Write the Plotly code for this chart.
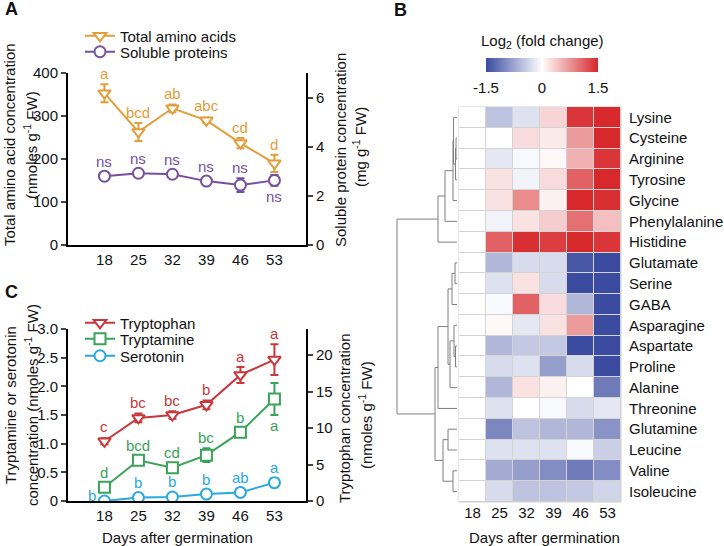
import plotly.graph_objects as go

# ---------------- data ----------------
days = [18, 25, 32, 39, 46, 53]
day_labels = ['18', '25', '32', '39', '46', '53']

taa_mean = [353, 263, 318, 290, 237, 190]
taa_err = [21, 21, 9, 6, 12, 20]
taa_letters = ['a', 'bcd', 'ab', 'abc', 'cd', 'd']

sp_mean = [2.80, 2.92, 2.88, 2.60, 2.44, 2.63]
sp_err = [0.04, 0.04, 0.04, 0.05, 0.28, 0.22]
sp_letters = ['ns', 'ns', 'ns', 'ns', 'ns', 'ns']

trp_mean = [8.2, 11.4, 11.8, 13.2, 17.3, 19.4]
trp_err = [0.4, 0.6, 0.5, 0.6, 1.1, 2.1]
trp_letters = ['c', 'bc', 'bc', 'b', 'a', 'a']

tra_mean = [0.24, 0.71, 0.58, 0.80, 1.20, 1.78]
tra_err = [0.03, 0.04, 0.07, 0.12, 0.04, 0.28]
tra_letters = ['d', 'bcd', 'cd', 'bc', 'b', 'a']

ser_mean = [0.0, 0.06, 0.07, 0.12, 0.15, 0.32]
ser_err = [0.0, 0.02, 0.02, 0.02, 0.02, 0.08]
ser_letters = ['b', 'b', 'b', 'b', 'ab', 'a']

amino_acids = ['Lysine', 'Cysteine', 'Arginine', 'Tyrosine', 'Glycine',
               'Phenylalanine', 'Histidine', 'Glutamate', 'Serine', 'GABA',
               'Asparagine', 'Aspartate', 'Proline', 'Alanine', 'Threonine',
               'Glutamine', 'Leucine', 'Valine', 'Isoleucine']

log2fc = [
    [0, -0.50, -0.25, 0.30, 1.40, 1.50],
    [0, 0.00, 0.25, 0.15, 0.70, 1.50],
    [0, -0.20, -0.05, 0.05, 0.55, 1.40],
    [0, 0.20, -0.10, 0.25, 1.10, 1.50],
    [0, 0.20, 0.80, 0.10, 1.50, 1.45],
    [0, -0.10, 0.20, 0.35, 1.00, 0.45],
    [0, 1.10, 1.45, 1.35, 1.50, 1.40],
    [0, -0.60, -0.30, -0.30, -1.40, -1.50],
    [0, -0.25, 0.20, -0.30, -1.50, -1.50],
    [0, -0.05, 1.10, 0.25, -0.60, -1.50],
    [0, 0.05, -0.20, 0.20, 0.70, -1.50],
    [0, -0.60, -0.45, -0.45, -1.50, -1.50],
    [0, -0.30, -0.25, -0.80, -0.30, -1.50],
    [0, -0.60, 0.20, 0.10, 0.00, -1.10],
    [0, -0.25, 0.00, -0.05, -0.30, -0.20],
    [0, -1.00, -0.50, -0.60, -0.60, -0.90],
    [0, -0.25, -0.25, -0.25, -0.05, -0.40],
    [0, -0.70, -0.80, -0.95, -1.10, -0.95],
    [0, -0.30, -0.50, -0.50, -0.45, -0.35],
]

# hierarchical clustering merges: (child a, child b, height); leaves are 0..18,
# new clusters numbered from 19 in order
linkage = [
    (1, 2, 1.0), (19, 3, 1.5), (0, 20, 3.5), (21, 4, 4.0), (22, 5, 12.0),
    (23, 6, 19.0),
    (7, 8, 2.0), (25, 9, 5.0), (11, 12, 1.5), (10, 27, 3.0), (28, 13, 7.0),
    (26, 29, 9.0), (30, 14, 19.0), (15, 16, 9.0), (17, 18, 4.0),
    (32, 33, 14.0), (31, 34, 22.0),
    (24, 35, 60.0),
]

# ---------------- style ----------------
FONT = 'Liberation Sans, Arial, sans-serif'
FS = 15
W, H = 724, 546
ORANGE = '#E39D3A'
PURPLE = '#76509E'
RED = '#C8373A'
GREEN = '#3AA35A'
CYAN = '#29A9E1'


def px_x(p):
    return p / W


def px_y(p):
    return 1 - p / H


A_dom_y = [px_y(245), px_y(73)]
C_dom_y = [px_y(501), px_y(329)]
LX_dom = [px_x(68), px_x(306)]
HM_dom_x = [px_x(459), px_x(621)]
HM_dom_y = [px_y(502), px_y(107)]
DG_dom_x = [px_x(395), px_x(459)]

A_left_range = [0, 400]
A_right_range = [0, 7]
C_left_range = [0, 3]
C_right_range = [0, 23.6]

fig = go.Figure()


def series(x, y, err, color, symbol, name, xa, ya, legend):
    fig.add_trace(go.Scatter(
        x=x, y=y, name=name, mode='lines+markers', xaxis=xa, yaxis=ya,
        legend=legend,
        line=dict(color=color, width=2),
        marker=dict(symbol=symbol, size=11, color='white',
                    line=dict(color=color, width=2)),
        error_y=dict(type='data', array=err, visible=True, color=color,
                     thickness=2, width=4),
    ))


series(days, taa_mean, taa_err, ORANGE, 'triangle-down', 'Total amino acids', 'x', 'y', 'legend')
series(days, sp_mean, sp_err, PURPLE, 'circle', 'Soluble proteins', 'x', 'y2', 'legend2')
series(days, trp_mean, trp_err, RED, 'triangle-down', 'Tryptophan', 'x2', 'y4', 'legend3')
series(days, tra_mean, tra_err, GREEN, 'square', 'Tryptamine', 'x2', 'y3', 'legend4')
series(days, ser_mean, ser_err, CYAN, 'circle', 'Serotonin', 'x2', 'y3', 'legend5')

annotations = []


def letters(x, y, err, texts, color, xref, yref, dom, rng, positions):
    ppu = (dom[1] - dom[0]) * H / (rng[1] - rng[0])
    for xi, yi, ei, t, pos in zip(x, y, err, texts, positions):
        off = max(ei * ppu, 4.5)
        a = dict(x=xi, y=yi, xref=xref, yref=yref, text=t, showarrow=False,
                 font=dict(color=color, size=FS, family=FONT))
        if pos == 'above':
            a.update(yanchor='bottom', yshift=off)
        elif pos == 'below':
            a.update(yanchor='top', yshift=-off)
        else:
            a.update(xanchor='right', xshift=-6, yshift=6)
        annotations.append(a)


letters(days, taa_mean, taa_err, taa_letters, ORANGE, 'x', 'y', A_dom_y, A_left_range, ['above'] * 6)
letters(days, sp_mean, sp_err, sp_letters, PURPLE, 'x', 'y2', A_dom_y, A_right_range, ['above'] * 5 + ['below'])
letters(days, trp_mean, trp_err, trp_letters, RED, 'x2', 'y4', C_dom_y, C_right_range, ['above'] * 6)
letters(days, tra_mean, tra_err, tra_letters, GREEN, 'x2', 'y3', C_dom_y, C_left_range, ['above'] * 5 + ['below'])
letters(days, ser_mean, ser_err, ser_letters, CYAN, 'x2', 'y3', C_dom_y, C_left_range, ['left'] + ['above'] * 5)

# heatmap
fig.add_trace(go.Heatmap(
    z=log2fc, x=day_labels, y=list(range(len(amino_acids))),
    xaxis='x3', yaxis='y5', zmin=-1.5, zmax=1.5, xgap=1, ygap=1,
    colorscale=[[0, '#3B4BA0'], [0.5, '#FFFFFF'], [1, '#D7282C']],
    colorbar=dict(orientation='h', x=px_x(542), xanchor='center',
                  y=px_y(58), yanchor='top', len=112, lenmode='pixels',
                  thickness=14, outlinewidth=0, xpad=0, ypad=0,
                  ticks='outside', ticklen=3, tickcolor='rgba(0,0,0,0)',
                  tickvals=[-1.5, 0, 1.5], ticktext=['-1.5', '0', '1.5'],
                  tickfont=dict(size=FS, family=FONT, color='#111')),
    showscale=True, hoverinfo='skip'))

# dendrogram
n = len(amino_acids)
pos = {i: float(i) for i in range(n)}
hgt = {i: 0.0 for i in range(n)}
dx, dy = [], []
for k, (a, b, h) in enumerate(linkage):
    cid = n + k
    dx += [hgt[a], h, h, hgt[b], None]
    dy += [pos[a], pos[a], pos[b], pos[b], None]
    pos[cid] = (pos[a] + pos[b]) / 2
    hgt[cid] = h
fig.add_trace(go.Scatter(x=dx, y=dy, mode='lines', xaxis='x4', yaxis='y6',
                         line=dict(color='#7f7f7f', width=1), showlegend=False,
                         hoverinfo='skip'))

axis_font = dict(size=FS, family=FONT, color='#111')
line_ax = dict(showline=True, linecolor='black', linewidth=2, showgrid=False,
               zeroline=False, tickfont=axis_font, automargin=False)


def leg(x, y):
    return dict(x=px_x(x), y=px_y(y), xanchor='left', yanchor='middle',
                font=dict(size=FS, family=FONT, color='#111'),
                bgcolor='rgba(0,0,0,0)', itemwidth=30)


layout = dict(
    width=W, height=H, margin=dict(l=0, r=0, t=0, b=0, autoexpand=False),
    paper_bgcolor='white', plot_bgcolor='white',
    font=dict(family=FONT, size=FS, color='#111'),
    xaxis=dict(domain=LX_dom, anchor='y', range=[10.5, 59.5], tickvals=days,
               ticks='', **line_ax),
    yaxis=dict(domain=A_dom_y, anchor='x', range=A_left_range,
               tickvals=[0, 100, 200, 300, 400], ticks='outside', ticklen=5,
               tickwidth=2, **line_ax),
    yaxis2=dict(overlaying='y', side='right', anchor='x', range=A_right_range,
                tickvals=[0, 2, 4, 6], ticks='outside', ticklen=5, tickwidth=2,
                **line_ax),
    xaxis2=dict(domain=LX_dom, anchor='y3', range=[10.5, 59.5], tickvals=days,
                ticks='', **line_ax),
    yaxis3=dict(domain=C_dom_y, anchor='x2', range=C_left_range,
                tickvals=[0, 0.5, 1, 1.5, 2, 2.5, 3],
                ticktext=['0', '0.5', '1.0', '1.5', '2.0', '2.5', '3.0'],
                ticks='outside', ticklen=5, tickwidth=2, **line_ax),
    yaxis4=dict(overlaying='y3', side='right', anchor='x2', range=C_right_range,
                tickvals=[0, 5, 10, 15, 20], ticks='outside', ticklen=5,
                tickwidth=2, **line_ax),
    xaxis3=dict(domain=HM_dom_x, anchor='y5', type='category', ticks='',
                showline=False, showgrid=False, zeroline=False, tickfont=axis_font,
                automargin=False),
    yaxis5=dict(domain=HM_dom_y, anchor='x3', range=[n - 0.5, -0.5], side='right',
                tickvals=list(range(n)), ticktext=amino_acids, ticks='',
                ticklabelstandoff=7,
                showline=False, showgrid=False, zeroline=False, tickfont=axis_font,
                automargin=False),
    xaxis4=dict(domain=DG_dom_x, anchor='y6', range=[62, -2], visible=False),
    yaxis6=dict(domain=HM_dom_y, anchor='x4', range=[n - 0.5, -0.5], visible=False),
    legend=leg(80, 36),
    legend2=leg(80, 52),
    legend3=leg(80, 323),
    legend4=leg(80, 339),
    legend5=leg(80, 356),
    shapes=[dict(type='rect', xref='x3 domain', yref='y5 domain', x0=0, x1=1,
                 y0=0, y1=1, fillcolor='#d4d4d4', line=dict(color='#cfcfcf', width=1),
                 layer='below')],
)


def text_ann(x, y, text, size=FS, angle=0, bold=False, xanchor='center', yanchor='middle'):
    t = '<b>%s</b>' % text if bold else text
    annotations.append(dict(x=px_x(x), y=px_y(y), xref='paper', yref='paper',
                            text=t, showarrow=False, textangle=angle,
                            xanchor=xanchor, yanchor=yanchor,
                            font=dict(size=size, family=FONT, color='#111')))


# panel letters
text_ann(3, 9, 'A', 18, bold=True, xanchor='left')
text_ann(392, 10, 'B', 18, bold=True, xanchor='left')
text_ann(3, 292, 'C', 18, bold=True, xanchor='left')

# colorbar title
text_ann(542, 42, 'Log<sub>2</sub> (fold change)')

# axis titles
text_ann(10, 145, 'Total amino acid concentration', angle=-90)
text_ann(31, 145, '(nmoles g<sup>-1</sup> FW)', angle=-90)
text_ann(340, 150, 'Soluble protein concentration', angle=-90)
text_ann(360, 147, '(mg g<sup>-1</sup> FW)', angle=-90)
text_ann(10, 405, 'Tryptamine or serotonin', angle=-90)
text_ann(31, 405, 'concentration (nmoles g<sup>-1</sup> FW)', angle=-90)
text_ann(345, 418, 'Tryptophan concentration', angle=-90)
text_ann(365, 415, '(nmoles g<sup>-1</sup> FW)', angle=-90)
text_ann(177, 537, 'Days after germination')
text_ann(544, 537, 'Days after germination')

layout['annotations'] = annotations
fig.update_layout(**layout)
fig.write_html('out.html', config={'displayModeBar': False},
               post_script="document.body.style.margin='0px';document.body.style.padding='0px';")
